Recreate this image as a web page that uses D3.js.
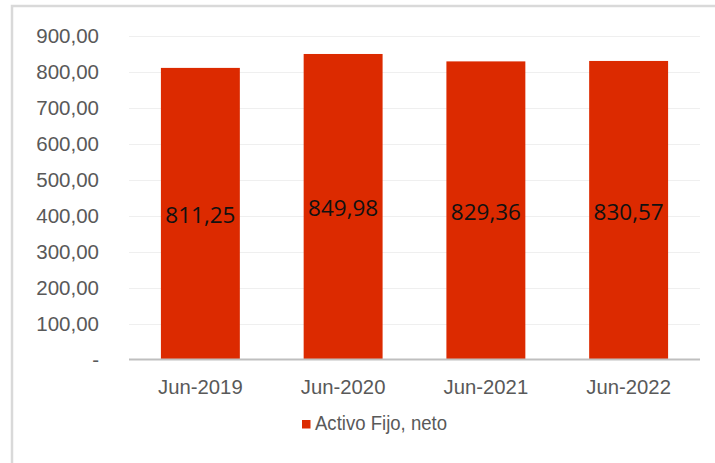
<!DOCTYPE html>
<html><head><meta charset="utf-8">
<script src="https://cdn.jsdelivr.net/npm/d3@7"></script>
<style>body{margin:0;background:#fff}svg{display:block}</style>
</head><body>
<svg id="c" width="715" height="463"></svg>
<script>
const categories = ["Jun-2019", "Jun-2020", "Jun-2021", "Jun-2022"];
const values = [811.25, 849.98, 829.36, 830.57];
const yTicks = [0, 100, 200, 300, 400, 500, 600, 700, 800, 900];
const seriesName = "Activo Fijo, neto";

const svg = d3.select("#c");
const color = "#dc2a00";
const fmt = v => v === 0 ? "-" : d3.format(",.2f")(v).replace(/,/g, "#").replace(".", ",").replace(/#/g, ".");

// frame
svg.append("rect").attr("x", 12).attr("y", 6).attr("width", 760).attr("height", 500)
  .attr("fill", "none").attr("stroke", "#d9d9d9").attr("stroke-width", 2.5);

const x = d3.scaleBand().domain(categories).range([129, 700]).paddingInner(0.447).paddingOuter(0.2235);
const y = d3.scaleLinear().domain([0, 900]).range([359.5, 36]);

// gridlines
svg.append("g").selectAll("line").data(yTicks.filter(d => d > 0)).join("line")
  .attr("x1", 129).attr("x2", 700).attr("y1", d => Math.round(y(d)) + 0.5).attr("y2", d => Math.round(y(d)) + 0.5)
  .attr("stroke", "#efefef").attr("stroke-width", 1);

// y axis labels
const yAxis = d3.axisLeft(y).tickValues(yTicks).tickFormat(fmt).tickSize(0).tickPadding(0);
const gy = svg.append("g").attr("transform", "translate(99,0)").call(yAxis);
gy.select(".domain").remove();
gy.selectAll("text").attr("font-family", "Liberation Sans, Arial, sans-serif").attr("font-size", 20.5)
  .attr("fill", "#595959").attr("dy", "0.34em");

// bars
svg.append("g").selectAll("rect").data(values).join("rect")
  .attr("x", (d, i) => x(categories[i])).attr("width", x.bandwidth())
  .attr("y", d => y(d)).attr("height", d => y(0) - y(d)).attr("fill", color);

// bar labels
svg.append("g").selectAll("text").data(values).join("text")
  .attr("x", (d, i) => x(categories[i]) + x.bandwidth() / 2)
  .attr("y", d => (y(d) + y(0)) / 2 + 9.5)
  .attr("text-anchor", "middle").attr("font-family", "Open Sans, sans-serif").attr("font-size", 22.5)
  .attr("fill", "#111").text(d => d.toFixed(2).replace(".", ","));

// x axis
const xAxis = d3.axisBottom(x).tickSize(0).tickPadding(0);
const gx = svg.append("g").attr("transform", "translate(0,359.5)").call(xAxis);
gx.select(".domain").attr("stroke", "#bfbfbf").attr("stroke-width", 2).attr("d", "M129,0H700");
gx.selectAll("text").attr("font-family", "Liberation Sans, Arial, sans-serif").attr("font-size", 20.3)
  .attr("fill", "#595959").attr("dy", 0).attr("y", 34.5);

// legend
const lg = svg.append("g");
lg.append("rect").attr("x", 302).attr("y", 420).attr("width", 8.5).attr("height", 8.5).attr("fill", color);
lg.append("text").attr("x", 315).attr("y", 429.5).attr("font-family", "Liberation Sans, Arial, sans-serif")
  .attr("font-size", 20).attr("fill", "#595959")
  .attr("textLength", 132).attr("lengthAdjust", "spacingAndGlyphs").text(seriesName);
</script>
</body></html>
